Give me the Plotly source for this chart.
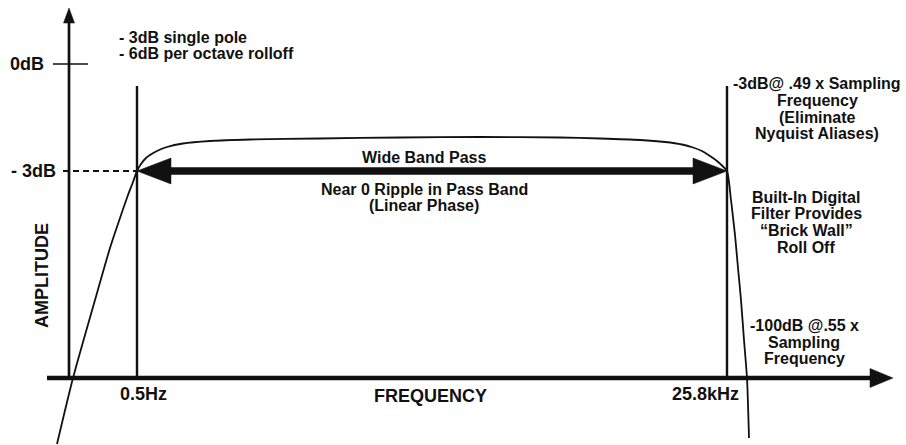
import plotly.graph_objects as go

# ---- schematic data (canvas-like units: x to the right, y downward) ----
# filter response curve
curve_x = [57, 73, 95, 110, 120, 128, 133, 137, 141, 146, 150, 158, 167, 183, 210, 250, 320, 400, 480,
           560, 600, 640, 665, 682, 693, 702, 710, 717, 722, 727, 731, 735, 738, 741, 744, 747, 749]
curve_y = [444, 378, 300, 248, 218, 195, 182, 171, 164, 158, 155, 150.5, 147, 143.5, 141, 139.5, 138.5,
           137.5, 137, 137.5, 138.5, 140, 142, 144.5, 147.5, 151, 156, 161, 165.5, 171, 200, 235, 268,
           300, 340, 378, 438]

# frequency markers
marker_x = [137, 727]
marker_labels = ["0.5Hz", "25.8kHz"]
marker_label_x = [143, 705]

# amplitude levels
level_0db_y = 64
level_3db_y = 171

# axes geometry
yaxis_x = 69
yaxis_top = 8
xaxis_y = 378
xaxis_left = 47
xaxis_right = 893
marker_top = 86

FONT = "Liberation Sans, Arial, Helvetica, sans-serif"
BLACK = "#111111"

fig = go.Figure()

def line(xs, ys, width, dash="solid", color=BLACK):
    fig.add_trace(go.Scatter(x=xs, y=ys, mode="lines", line=dict(color=color, width=width, dash=dash),
                             hoverinfo="skip", showlegend=False))

def tri(xs, ys):
    fig.add_trace(go.Scatter(x=xs, y=ys, mode="lines", fill="toself", fillcolor=BLACK,
                             line=dict(color=BLACK, width=0.5), hoverinfo="skip", showlegend=False))

# y axis with arrow
line([yaxis_x, yaxis_x], [xaxis_y, yaxis_top + 12], 2.7)
tri([yaxis_x, yaxis_x - 5.5, yaxis_x + 5.5, yaxis_x], [yaxis_top, yaxis_top + 15, yaxis_top + 15, yaxis_top])

# x axis with arrow
line([xaxis_left, xaxis_right - 20], [xaxis_y, xaxis_y], 4.5)
tri([xaxis_right, xaxis_right - 23, xaxis_right - 23, xaxis_right], [xaxis_y, xaxis_y - 9.5, xaxis_y + 9.5, xaxis_y])

# 0dB tick
line([53, 88], [level_0db_y, level_0db_y], 1.6)
# -3dB dashed
line([63, marker_x[0]], [level_3db_y, level_3db_y], 1.8, dash="6px,4px")

# vertical marker lines
for mx in marker_x:
    line([mx, mx], [marker_top, xaxis_y], 2.4)

# thick double arrow
line([marker_x[0] + 30, marker_x[1] - 30], [level_3db_y, level_3db_y], 7.5)
tri([marker_x[0], marker_x[0] + 34, marker_x[0] + 34, marker_x[0]],
    [level_3db_y, level_3db_y - 13, level_3db_y + 13, level_3db_y])
tri([marker_x[1], marker_x[1] - 34, marker_x[1] - 34, marker_x[1]],
    [level_3db_y, level_3db_y - 13, level_3db_y + 13, level_3db_y])

# response curve
fig.add_trace(go.Scatter(x=curve_x, y=curve_y, mode="lines", line=dict(color=BLACK, width=1.8, shape="spline", smoothing=0.6),
                         hoverinfo="skip", showlegend=False))

ann = []

def text(t, x, y, size=16, xanchor="center", angle=0):
    ann.append(dict(text=t, x=x, y=y, xref="x", yref="y", showarrow=False, xanchor=xanchor, yanchor="middle",
                    textangle=angle, font=dict(family=FONT, size=size, color=BLACK, weight="bold")))

text("- 3dB single pole", 117, 37, xanchor="left")
text("- 6dB per octave rolloff", 117, 53, xanchor="left")
text("0dB", 8, 64, size=18, xanchor="left")
text("- 3dB", 9, 171, size=18, xanchor="left")
text("AMPLITUDE", 42, 276, size=18, angle=-90)
text("Wide Band Pass", 424, 157)
text("Near 0 Ripple in Pass Band", 424, 189)
text("(Linear Phase)", 424, 205)
for lbl, lx in zip(marker_labels, marker_label_x):
    text(lbl, lx, 394, size=18)
text("FREQUENCY", 430, 396, size=18)

for t, y in zip(["-3dB@ .49 x Sampling", "Frequency", "(Eliminate", "Nyquist Aliases)"], [83, 100, 117, 133]):
    text(t, 817, y)
for t, y in zip(["Built-In Digital", "Filter Provides", "\u201cBrick Wall\u201d", "Roll Off"], [197, 213, 230, 247]):
    text(t, 806, y)
for t, y in zip(["-100dB @.55 x", "Sampling", "Frequency"], [325, 342, 358]):
    text(t, 804, y)

fig.update_layout(
    width=906, height=445, margin=dict(l=0, r=0, t=0, b=0),
    paper_bgcolor="white", plot_bgcolor="white",
    xaxis=dict(range=[0, 906], visible=False, fixedrange=True),
    yaxis=dict(range=[445, 0], visible=False, fixedrange=True),
    annotations=ann, showlegend=False,
)

fig.write_html("out.html", config={"displayModeBar": False},
               post_script="document.body.style.margin='0px';document.body.style.overflow='hidden';")
